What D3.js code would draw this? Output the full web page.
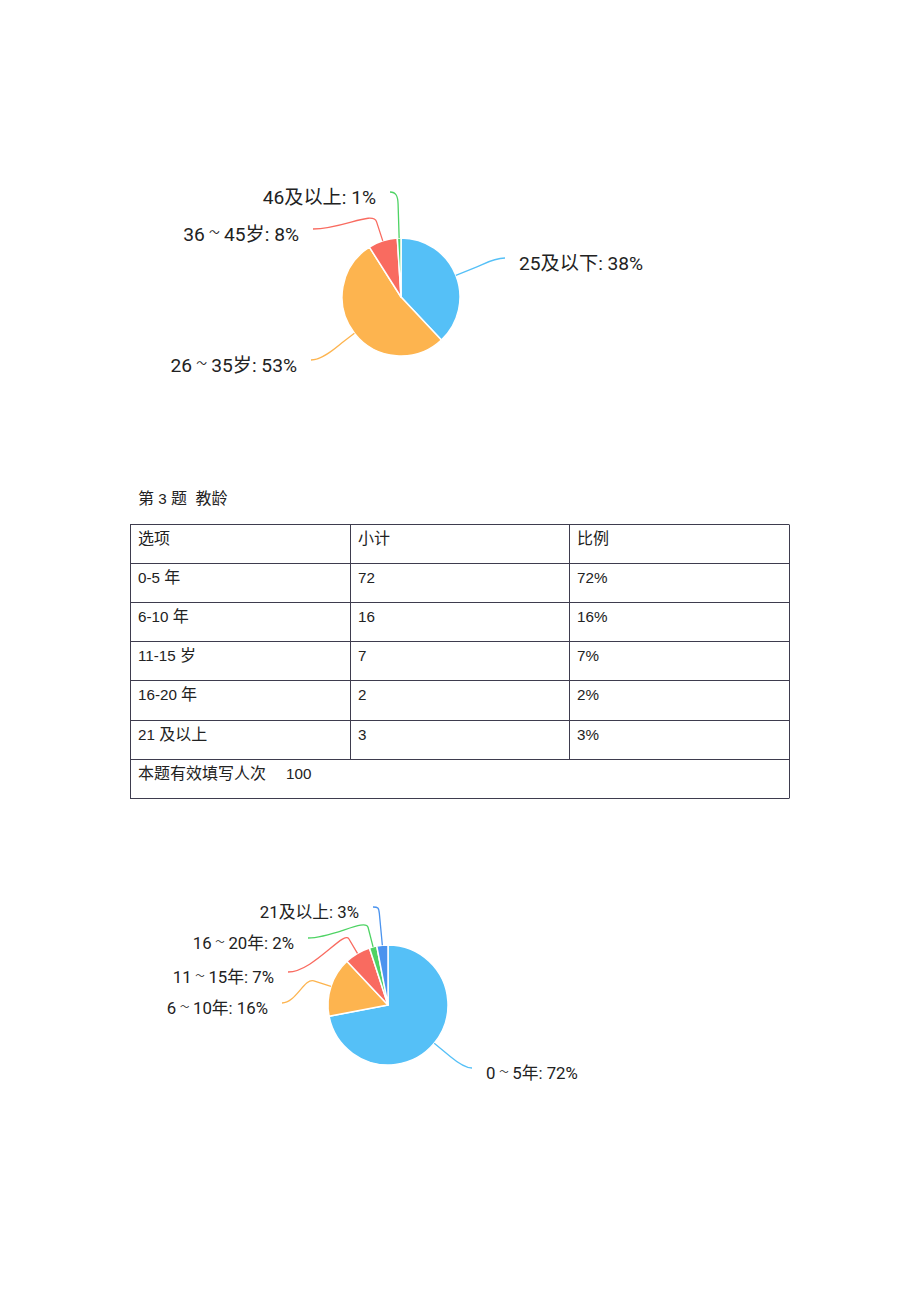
<!DOCTYPE html>
<html><head><meta charset="utf-8">
<script src="https://cdn.jsdelivr.net/npm/d3@7/dist/d3.min.js"></script>
<style>
html,body{margin:0;padding:0;background:#fff;}
svg{display:block;}
</style></head>
<body>
<svg id="c" width="920" height="1302"></svg>
<script>
// ---- data ----
const ageLabels = ["25及以下", "26～35岁", "36～45岁", "46及以上"];
const agePct = [38, 53, 8, 1];
const tenureLabels = ["0～5年", "6～10年", "11～15年", "16～20年", "21及以上"];
const tenurePct = [72, 16, 7, 2, 3];
const tableTitle = "第 3 题  教龄";
const tableHeader = ["选项", "小计", "比例"];
const tableOptions = ["0-5 年", "6-10 年", "11-15 岁", "16-20 年", "21 及以上"];
const tableCounts = [72, 16, 7, 2, 3];
const tablePercents = ["72%", "16%", "7%", "2%", "3%"];
const tableTotalLabel = "本题有效填写人次";
const tableTotal = 100;

// ---- layout / style ----
const ageColors = ["#55c0f7", "#fdb44f", "#f96b60", "#4ed364"];
const tenureColors = ["#55c0f7", "#fdb44f", "#f96b60", "#4ed364", "#4b93ee"];
const labelFont = "Roboto, 'Noto Sans CJK SC', sans-serif";
const latinFont = "'Liberation Sans', sans-serif";
const cjkFont = "'Noto Sans CJK SC', sans-serif";

const svg = d3.select("#c");

function drawPie(cfg) {
  const g = svg.append("g").attr("transform", `translate(${cfg.cx},${cfg.cy})`);
  const pie = d3.pie().sort(null).value(d => d);
  const arcs = pie(cfg.values);
  const arc = d3.arc().innerRadius(0).outerRadius(cfg.r);
  g.selectAll("path.slice").data(arcs).join("path")
    .attr("class", "slice")
    .attr("d", arc)
    .attr("fill", (d, i) => cfg.colors[i])
    .attr("stroke", "#fff").attr("stroke-width", 1.5).attr("stroke-linejoin", "round");

  arcs.forEach((a, i) => {
    const L = cfg.leaders[i];
    const m = (a.startAngle + a.endAngle) / 2;
    const ux = Math.sin(m), uy = -Math.cos(m);
    const sx = ux * cfg.r, sy = uy * cfg.r;
    const kx = sx + ux * L.ext, ky = sy + uy * L.ext;
    const ex = L.ex - cfg.cx, ey = L.ey - cfg.cy;
    const c1x = kx + ux * L.h, c1y = ky + uy * L.h;
    const c2x = ex - L.side * L.h2, c2y = ey;
    const p = d3.path();
    p.moveTo(sx, sy); p.lineTo(kx, ky);
    p.bezierCurveTo(c1x, c1y, c2x, c2y, ex, ey);
    g.append("path").attr("d", p.toString())
      .attr("fill", "none").attr("stroke", cfg.colors[i]).attr("stroke-width", 1.3);
    const t = g.append("text")
      .attr("x", ex + L.side * 14)
      .attr("y", ey + 5)
      .attr("text-anchor", L.side > 0 ? "start" : "end")
      .attr("dominant-baseline", "central")
      .attr("font-family", labelFont)
      .attr("font-size", cfg.font)
      .attr("fill", "#222");
    const parts = cfg.labels[i].split("～");
    const fs = cfg.font;
    if (parts.length === 2) {
      t.append("tspan").text(parts[0]);
      t.append("tspan").attr("dx", fs * 0.22).attr("font-size", fs * 0.56)
        .attr("dy", -fs * 0.12).text("～");
      t.append("tspan").attr("dx", fs * 0.22).attr("dy", fs * 0.12)
        .text(`${parts[1]}: ${cfg.values[i]}%`);
    } else {
      t.text(`${cfg.labels[i]}: ${cfg.values[i]}%`);
    }
  });
}

drawPie({
  cx: 401, cy: 297, r: 59, font: 19.2,
  values: agePct, labels: ageLabels, colors: ageColors,
  leaders: [
    {ext: 22, h: 8, h2: 12, ex: 505, ey: 258, side: 1},
    {ext: 14, h: 8, h2: 12, ex: 311, ey: 360, side: -1},
    {ext: 20, h: 12, h2: 30, ex: 313, ey: 229, side: -1},
    {ext: 34, h: 8, h2: 6, ex: 390, ey: 192, side: -1}
  ]
});

drawPie({
  cx: 388, cy: 1005, r: 60, font: 16.8,
  values: tenurePct, labels: tenureLabels, colors: tenureColors,
  leaders: [
    {ext: 20, h: 6, h2: 8, ex: 472, ey: 1068, side: 1},
    {ext: 18, h: 10, h2: 14, ex: 282, ey: 1003, side: -1},
    {ext: 17, h: 10, h2: 25, ex: 288, ey: 972, side: -1},
    {ext: 20, h: 10, h2: 25, ex: 308, ey: 938, side: -1},
    {ext: 32, h: 6, h2: 5, ex: 373, ey: 907, side: -1}
  ]
});

// ---- table ----
const T = {x0: 130, x1: 789, top: 524, rowH: 39.1, cols: [130, 350, 569, 789], pad: 8, latinSize: 15.2, cjkSize: 16};

// mixed-script text: CJK runs in a CJK font, other runs in a Latin font
function richText(sel, x, y, str) {
  const t = sel.append("text").attr("x", x).attr("y", y)
    .attr("fill", "#222")
    .attr("xml:space", "preserve").style("white-space", "pre");
  const runs = str.match(/[\u3000-\u9fff\uff00-\uffef]+|[^\u3000-\u9fff\uff00-\uffef]+/g) || [];
  runs.forEach(r => {
    const cjk = /[\u3000-\u9fff\uff00-\uffef]/.test(r);
    t.append("tspan")
      .attr("font-family", cjk ? cjkFont : latinFont)
      .attr("font-size", cjk ? T.cjkSize : T.latinSize)
      .text(r);
  });
  return t;
}

richText(svg, 138, 504, tableTitle);

const rows = [tableHeader].concat(tableOptions.map((o, i) => [o, String(tableCounts[i]), tablePercents[i]]));
const nRows = rows.length + 1;
const yRow = d3.scaleLinear().domain([0, nRows]).range([T.top, T.top + T.rowH * nRows]);
const tg = svg.append("g");
const lineColor = "#3e3c4e";
for (let i = 0; i <= nRows; i++) {
  tg.append("line").attr("x1", T.x0).attr("x2", T.x1)
    .attr("y1", Math.round(yRow(i)) + 0.5).attr("y2", Math.round(yRow(i)) + 0.5)
    .attr("stroke", lineColor).attr("stroke-width", 1);
}
T.cols.forEach((cx, j) => {
  const bottom = (j === 0 || j === T.cols.length - 1) ? yRow(nRows) : yRow(rows.length);
  tg.append("line").attr("x1", cx + 0.5).attr("x2", cx + 0.5)
    .attr("y1", Math.round(yRow(0)) + 0.5).attr("y2", Math.round(bottom) + 0.5)
    .attr("stroke", lineColor).attr("stroke-width", 1);
});
rows.forEach((r, i) => {
  r.forEach((cell, j) => {
    richText(tg, T.cols[j] + T.pad, yRow(i) + 20, cell);
  });
});
richText(tg, T.cols[0] + T.pad, yRow(rows.length) + 20, tableTotalLabel);
richText(tg, 286, yRow(rows.length) + 20, String(tableTotal));
</script>
</body></html>
